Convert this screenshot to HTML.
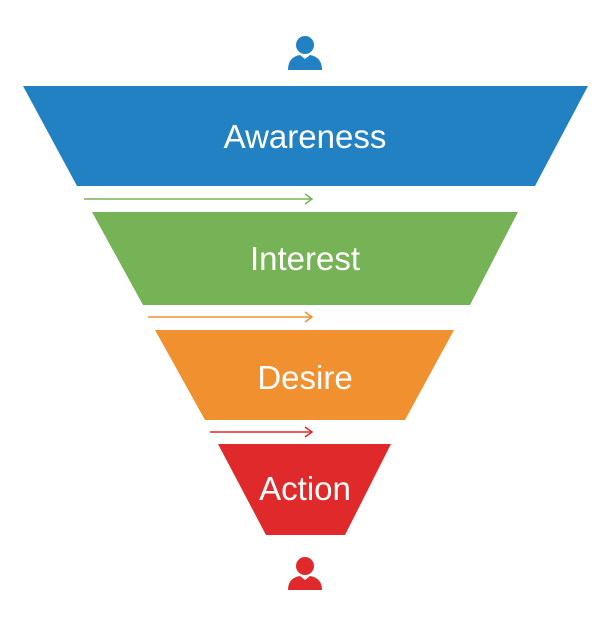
<!DOCTYPE html>
<html><head><style>body{margin:0;background:#fff}</style></head><body>
<svg width="609" height="620" viewBox="0 0 609 620" xmlns="http://www.w3.org/2000/svg" font-family="Liberation Sans, sans-serif">
<g fill="#2281c2"><circle cx="305" cy="45" r="9"/><path d="M288 70 Q288 57 300 55 L305 59 L310 55 Q322 57 322 70 Z"/></g>
<polygon points="23,86 588,86 535,186 77,186" fill="#2281c2"/>
<text x="305" y="148" font-size="33" fill="#fff" text-anchor="middle">Awareness</text>
<g stroke="#76b256" stroke-width="1.5" fill="none"><line x1="84" y1="199" x2="312" y2="199"/><polyline points="305,194 312,199 305,204"/></g>
<polygon points="92,212 518,212 470,305 143,305" fill="#76b256"/>
<text x="305" y="270" font-size="33" fill="#fff" text-anchor="middle">Interest</text>
<g stroke="#f0902e" stroke-width="1.5" fill="none"><line x1="148" y1="317" x2="312" y2="317"/><polyline points="305,312 312,317 305,322"/></g>
<polygon points="155,330 454,330 405,420 205,420" fill="#f0902e"/>
<text x="305" y="389" font-size="33" fill="#fff" text-anchor="middle">Desire</text>
<g stroke="#e0292a" stroke-width="1.5" fill="none"><line x1="210" y1="432" x2="312" y2="432"/><polyline points="305,427 312,432 305,437"/></g>
<polygon points="218,444 391,444 345,535 266,535" fill="#e0292a"/>
<text x="305" y="500" font-size="33" fill="#fff" text-anchor="middle">Action</text>
<g fill="#e0292a"><circle cx="305" cy="566" r="9"/><path d="M288 590 Q288 578 300 576 L305 580 L310 576 Q322 578 322 590 Z"/></g>
</svg>
</body></html>
